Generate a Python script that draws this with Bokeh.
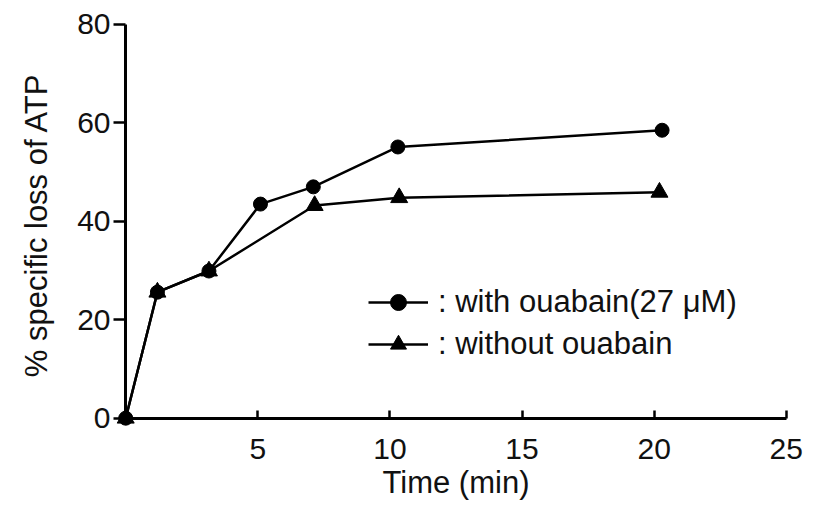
from bokeh.plotting import figure
from bokeh.models import Range1d, FixedTicker, Legend, LegendItem, LinearAxis
from bokeh.embed import file_html
from bokeh.resources import INLINE

# data
time_with = [0, 1.2, 3.15, 5.1, 7.1, 10.3, 20.3]
loss_with = [0, 25.6, 29.9, 43.5, 47.0, 55.1, 58.5]
time_without = [0, 1.2, 3.15, 7.15, 10.35, 20.2]
loss_without = [0, 25.6, 29.9, 43.2, 44.8, 45.9]
x_ticks = [5, 10, 15, 20, 25]
y_ticks = [0, 20, 40, 60, 80]
label_with = ": with ouabain(27 \u03bcM)"
label_without = ": without ouabain"

FONT = "Liberation Sans"
TICK_SIZE = "30px"
LABEL_SIZE = "31px"
INK = "#111111"

p = figure(width=819, height=508, output_backend="svg", toolbar_location=None,
           x_range=Range1d(-0.5, 25.5), y_range=Range1d(-2.5, 81),
           x_axis_location=None, y_axis_location=None)
p.min_border_left = 112
p.min_border_right = 20
p.min_border_top = 19
p.min_border_bottom = 78
p.outline_line_color = None
p.grid.visible = False
p.background_fill_color = "white"

# axis lines and ticks, drawn through the origin
xline = LinearAxis(ticker=FixedTicker(ticks=x_ticks), fixed_location=0, bounds=(0, 25),
                   major_tick_in=8, major_tick_out=0, major_label_text_alpha=0)
yline = LinearAxis(ticker=FixedTicker(ticks=y_ticks), fixed_location=0, bounds=(0, 80),
                   major_tick_in=0, major_tick_out=12, major_label_text_alpha=0)
for ax in (xline, yline):
    ax.axis_line_width = 3
    ax.axis_line_color = "black"
    ax.major_tick_line_width = 2.5
    ax.major_tick_line_color = "black"
    ax.minor_tick_line_color = None
p.add_layout(xline, "below")
p.add_layout(yline, "left")

# tick labels and axis titles, at the frame edges
xlab = LinearAxis(ticker=FixedTicker(ticks=x_ticks), axis_label="Time (min)",
                  major_label_standoff=8, axis_label_standoff=3)
ylab = LinearAxis(ticker=FixedTicker(ticks=y_ticks), axis_label="% specific loss of ATP",
                  major_label_standoff=2, axis_label_standoff=20)
for ax in (xlab, ylab):
    ax.axis_line_color = None
    ax.major_tick_line_color = None
    ax.minor_tick_line_color = None
    ax.major_tick_in = 0
    ax.major_tick_out = 0
    ax.major_label_text_font = FONT
    ax.major_label_text_font_size = TICK_SIZE
    ax.major_label_text_color = INK
    ax.axis_label_text_font = FONT
    ax.axis_label_text_font_size = LABEL_SIZE
    ax.axis_label_text_font_style = "normal"
    ax.axis_label_text_color = INK
p.add_layout(xlab, "below")
p.add_layout(ylab, "left")

l1 = p.line(time_with, loss_with, line_color="black", line_width=2.5)
s1 = p.scatter(time_with, loss_with, marker="circle", size=14, fill_color="black", line_color="black")
l2 = p.line(time_without, loss_without, line_color="black", line_width=2.5)
s2 = p.scatter(time_without, loss_without, marker="triangle", size=17, fill_color="black", line_color="black")

legend = Legend(items=[LegendItem(label=label_with, renderers=[l1, s1]),
                       LegendItem(label=label_without, renderers=[l2, s2])],
                location=(256, 66), glyph_width=60, glyph_height=40, label_height=40,
                spacing=2, padding=0, margin=0, label_standoff=10,
                border_line_color=None, background_fill_alpha=0,
                label_text_font=FONT, label_text_font_size=LABEL_SIZE, label_text_color=INK)
p.add_layout(legend, "center")

open("out.html", "w").write(file_html(p, INLINE))
